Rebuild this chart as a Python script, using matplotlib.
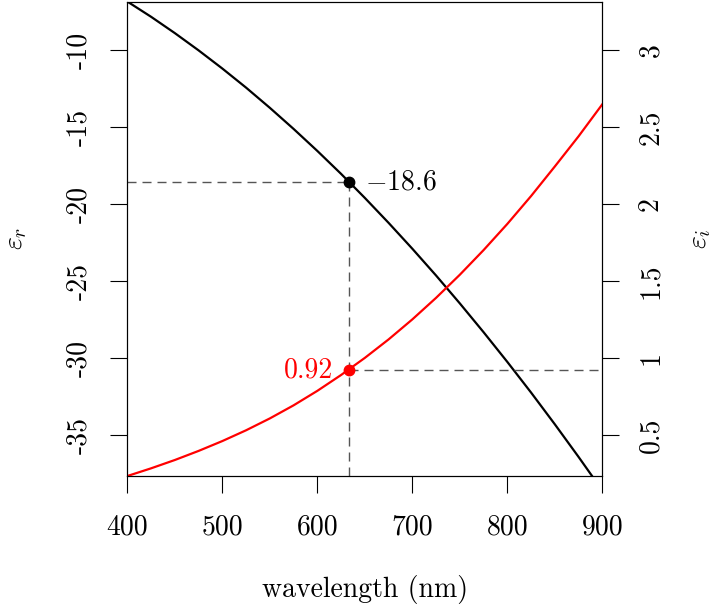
import numpy as np
import matplotlib
matplotlib.use('Agg')
import matplotlib.pyplot as plt

plt.rcParams['font.family'] = 'cmr10'
plt.rcParams['mathtext.fontset'] = 'cm'
plt.rcParams['axes.unicode_minus'] = False
plt.rcParams['font.size'] = 20

# Wavelength grid (nm) and permittivity read at each step
wavelength = [400, 425, 450, 475, 500, 525, 550, 575, 600, 625, 650,
              675, 700, 725, 750, 775, 800, 825, 850, 875, 900]
eps_r = [-6.85, -7.84, -8.90, -10.02, -11.20, -12.44, -13.75, -15.12, -16.55, -18.04, -19.60,
         -21.22, -22.90, -24.64, -26.45, -28.32, -30.25, -32.24, -34.30, -36.42, -38.60]
eps_i = [0.234, 0.284, 0.338, 0.397, 0.461, 0.531, 0.608, 0.693, 0.787, 0.890, 1.001,
         1.121, 1.251, 1.391, 1.541, 1.701, 1.871, 2.052, 2.244, 2.440, 2.648]

# HeNe line and the values there
lam0 = 633
er0 = -18.6
ei0 = 0.92

x_ticks = [400, 500, 600, 700, 800, 900]
r_ticks = [-35, -30, -25, -20, -15, -10]
i_ticks = [0.5, 1, 1.5, 2, 2.5, 3]
i_labels = ['0.5', '1', '1.5', '2', '2.5', '3']

fig = plt.figure(figsize=(7.14, 6.11), dpi=100)
ax = fig.add_axes([0.1783, 0.2214, 0.6653, 0.7761])
ax2 = ax.twinx()

ax.set_xlim(400, 900)
ax.set_ylim(-37.64, -6.85)
ax2.set_ylim(0.236, 3.315)

dash = (0, (6.5, 4.3))
gray = '#555555'

ax.plot([400, lam0], [er0, er0], color=gray, lw=1.0, linestyle=dash)
ax.plot([lam0, lam0], [er0, -37.64], color=gray, lw=1.0, linestyle=dash)
ax2.plot([lam0, 900], [ei0, ei0], color=gray, lw=1.0, linestyle=dash)

ax.plot(wavelength, eps_r, color='black', lw=1.6)
ax2.plot(wavelength, eps_i, color='red', lw=1.6)

ax.plot([lam0], [er0], 'o', color='black', ms=7.5)
ax2.plot([lam0], [ei0], 'o', color='red', ms=7.5)

ax.annotate(r'$%s$' % er0, (lam0, er0), xytext=(12, 0), textcoords='offset points',
            ha='left', va='center', fontsize=20, color='black')
ax2.annotate('%g' % ei0, (lam0, ei0), xytext=(-11, 0), textcoords='offset points',
             ha='right', va='center', fontsize=20, color='red')

ax.set_xticks(x_ticks)
ax.set_xticklabels([str(v) for v in x_ticks])
ax.set_yticks(r_ticks)
ax.set_yticklabels([str(v) for v in r_ticks], rotation=90, va='center')
ax2.set_yticks(i_ticks)
ax2.set_yticklabels(i_labels, rotation=90, va='center')

for a in (ax, ax2):
    a.tick_params(direction='out', length=12.5, width=0.8, labelsize=20)
    for s in a.spines.values():
        s.set_linewidth(0.8)
ax.tick_params(axis='x', pad=15)
ax.tick_params(axis='y', pad=13)
ax2.tick_params(axis='y', pad=13)

ax.set_xlabel('wavelength (nm)', fontsize=20, labelpad=25)
ax.set_ylabel(r'$\varepsilon_r$', fontsize=20, labelpad=26)
ax2.set_ylabel(r'$\varepsilon_i$', fontsize=20, labelpad=16, rotation=90)

fig.savefig('out.png', dpi=100)
